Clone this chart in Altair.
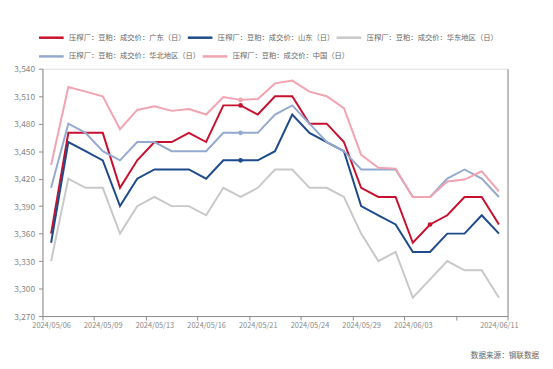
import altair as alt
import pandas as pd

dates = ["2024/05/06", "2024/05/07", "2024/05/08", "2024/05/09", "2024/05/10", "2024/05/11",
         "2024/05/13", "2024/05/14", "2024/05/15", "2024/05/16", "2024/05/17",
         "2024/05/20", "2024/05/21", "2024/05/22", "2024/05/23", "2024/05/24",
         "2024/05/27", "2024/05/28", "2024/05/29", "2024/05/30", "2024/05/31",
         "2024/06/03", "2024/06/04", "2024/06/05", "2024/06/06", "2024/06/07", "2024/06/11"]

series_names = ["压榨厂：豆粕：成交价：广东（日）", "压榨厂：豆粕：成交价：山东（日）",
                "压榨厂：豆粕：成交价：华东地区（日）", "压榨厂：豆粕：成交价：华北地区（日）",
                "压榨厂：豆粕：成交价：中国（日）"]
colors = ["#c8102e", "#1d4a8a", "#c8c8c8", "#94a9cf", "#f2a3b0"]

guangdong = [3360, 3470, 3470, 3470, 3410, 3440, 3460, 3460, 3470, 3460, 3500, 3500, 3490, 3510,
             3510, 3480, 3480, 3460, 3410, 3400, 3400, 3350, 3370, 3380, 3400, 3400, 3370]
shandong = [3350, 3460, 3450, 3440, 3390, 3420, 3430, 3430, 3430, 3420, 3440, 3440, 3440, 3450,
            3490, 3470, 3460, 3450, 3390, 3380, 3370, 3340, 3340, 3360, 3360, 3380, 3360]
huadong = [3330, 3420, 3410, 3410, 3360, 3390, 3400, 3390, 3390, 3380, 3410, 3400, 3410, 3430,
           3430, 3410, 3410, 3400, 3360, 3330, 3340, 3290, 3310, 3330, 3320, 3320, 3290]
huabei = [3410, 3480, 3470, 3450, 3440, 3460, 3460, 3450, 3450, 3450, 3470, 3470, 3470, 3490,
          3500, 3480, 3460, 3450, 3430, 3430, 3430, 3400, 3400, 3420, 3430, 3420, 3400]
china = [3435, 3520, 3515, 3510, 3474, 3495, 3499, 3494, 3496, 3490, 3509, 3506, 3507, 3524,
         3527, 3515, 3510, 3497, 3446, 3432, 3431, 3400, 3400, 3417, 3419, 3428, 3406]

# highlighted markers: (series index, date index)
markers = [(0, 11), (1, 11), (3, 11), (4, 11), (0, 22)]

label_idx = [0, 3, 6, 9, 12, 15, 18, 21, 26]
y_ticks = [3270, 3300, 3330, 3360, 3390, 3420, 3450, 3480, 3510, 3540]

all_series = [guangdong, shandong, huadong, huabei, china]
rows = []
for k, (name, vals) in enumerate(zip(series_names, all_series)):
    for i, v in enumerate(vals):
        rows.append({"s": name, "i": i, "v": v, "o": k})
df = pd.DataFrame(rows)
mk = pd.DataFrame([{"s": series_names[s], "i": i, "v": all_series[s][i]} for s, i in markers])

tick_vals = [-0.5 + 3 * k for k in range(10)]
label_expr = "[" + ",".join("'%s'" % d for d in dates) + "][round(datum.value)]"

x_scale = alt.Scale(domain=[-0.5, len(dates) - 0.5], nice=False, zero=False)
y_scale = alt.Scale(domain=[3270, 3540], nice=False, zero=False)

axis_gray = "#8c8c8c"
font = "Noto Sans CJK SC"


def legend(y):
    return alt.Legend(title=None, orient="none", legendX=-5, legendY=y,
                      direction="horizontal", symbolType="stroke", symbolSize=625,
                      symbolStrokeWidth=2.5, labelFont=font, labelFontSize=7.4,
                      labelColor="#666", labelOffset=4, columnPadding=-13,
                      labelLimit=300)


x_tick_axis = alt.Axis(values=tick_vals, labels=False, ticks=True, tickSize=4,
                       domain=True, domainColor=axis_gray, tickColor=axis_gray,
                       title=None, grid=False, orient="bottom")
y_left_axis = alt.Axis(values=y_ticks, format=",d", tickSize=4, domainColor=axis_gray,
                       tickColor=axis_gray, labelColor="#888", labelFontSize=8.5,
                       labelFont=font, labelPadding=4, title=None, grid=False)

lines1 = alt.Chart(df[df["o"] < 3]).mark_line(strokeWidth=2).encode(
    x=alt.X("i:Q", scale=x_scale, axis=x_tick_axis),
    y=alt.Y("v:Q", scale=y_scale, axis=y_left_axis),
    color=alt.Color("s:N", scale=alt.Scale(domain=series_names[:3], range=colors[:3]),
                    legend=legend(-45.5)),
    order=alt.Order("o:Q"),
)

lines2 = alt.Chart(df[df["o"] >= 3]).mark_line(strokeWidth=2).encode(
    x=alt.X("i:Q", scale=x_scale, axis=None),
    y=alt.Y("v:Q", scale=y_scale, axis=None),
    color=alt.Color("s:N", scale=alt.Scale(domain=series_names[3:], range=colors[3:]),
                    legend=legend(-26.5)),
    order=alt.Order("o:Q"),
)

points = alt.Chart(mk).mark_circle(size=22, opacity=1).encode(
    x=alt.X("i:Q", scale=x_scale,
            axis=alt.Axis(values=label_idx, labelExpr=label_expr, ticks=False, domain=False,
                          labelColor="#888", labelFontSize=7.5, labelFont=font,
                          labelPadding=6, title=None, grid=False, orient="bottom")),
    y=alt.Y("v:Q", scale=y_scale,
            axis=alt.Axis(orient="right", labels=False, ticks=False, domain=True,
                          domainColor=axis_gray, title=None, grid=False)),
    color=alt.Color("s:N", scale=alt.Scale(domain=series_names, range=colors), legend=None),
)

chart = alt.layer(lines1, lines2, points).resolve_axis(
    x="independent", y="independent"
).resolve_scale(color="independent").properties(
    width=472, height=251,
    autosize=alt.AutoSizeParams(type="none"),
    padding={"left": 35, "top": 59, "right": 38, "bottom": 45},
    title=alt.Title("数据来源：钢联数据", orient="bottom", anchor="end", align="right",
                    frame="group", fontSize=7.7, color="#666", font=font,
                    fontWeight="normal", dx=32, offset=23),
).configure_view(stroke=None).configure(background="white")

chart.save("out.html", embed_options={"renderer": "svg", "actions": False})
